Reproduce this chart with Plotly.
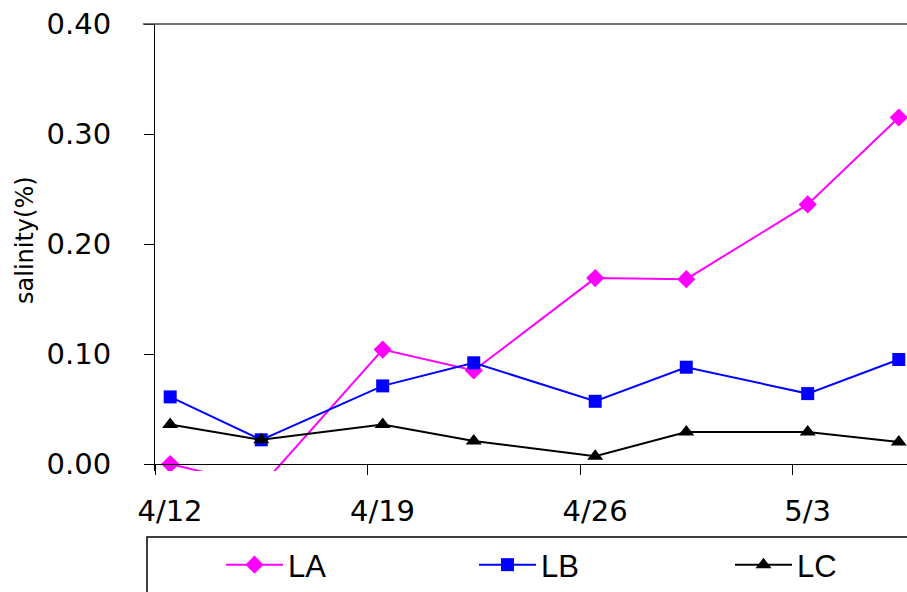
import pandas as pd
import plotly.graph_objects as go

# Sampling dates and salinity (%) at the three sites
dates = ["2008-04-12", "2008-04-15", "2008-04-19", "2008-04-22",
         "2008-04-26", "2008-04-29", "2008-05-03", "2008-05-06"]
la = [0.000, -0.020, 0.104, 0.085, 0.169, 0.168, 0.236, 0.315]
lb = [0.061, 0.022, 0.071, 0.092, 0.057, 0.088, 0.064, 0.095]
lc = [0.036, 0.022, 0.036, 0.021, 0.007, 0.029, 0.029, 0.020]
y_ticks = [0.0, 0.1, 0.2, 0.3, 0.4]

# each reading is plotted at the middle of its day
x = pd.to_datetime(dates) + pd.Timedelta(hours=12)

W, H = 907, 592
L, T, R = 155, 24, 0
PLOT_BOTTOM = 471          # plot area runs a little below the zero line
B = H - PLOT_BOTTOM
ph = PLOT_BOTTOM - T
Y0_PIX = 464               # pixel row of salinity 0


def paper_y(pix):
    return (PLOT_BOTTOM - pix) / ph


def paper_x(pix):
    return (pix - L) / (W - L - R)


# name, values, colour, marker, marker size, legend id, legend left edge (px)
series = [
    ("LA", la, "#FF00FF", "diamond", 14, "legend", 221),
    ("LB", lb, "#0000FF", "square", 13, "legend2", 474),
    ("LC", lc, "#000000", "triangle-up", 14, "legend3", 730),
]

fig = go.Figure()
legend_style = dict(
    orientation="h", xanchor="left", yanchor="middle",
    y=paper_y(565),
    font=dict(family="Liberation Sans", size=31, color="#000000"),
    bgcolor="rgba(0,0,0,0)", borderwidth=0, itemwidth=57,
)
legends = {}
for name, vals, col, sym, size, leg, left in series:
    fig.add_trace(go.Scatter(
        x=x, y=vals, name=name, mode="lines+markers",
        line=dict(color=col, width=2),
        marker=dict(symbol=sym, size=size, color=col),
        cliponaxis=True, legend=leg,
    ))
    legends[leg] = dict(legend_style, x=paper_x(left))

tick_font = dict(family="DejaVu Sans", size=29, color="#000000")

fig.update_layout(
    width=W, height=H,
    margin=dict(l=L, r=R, t=T, b=B, pad=0, autoexpand=False),
    paper_bgcolor="white", plot_bgcolor="white",
    showlegend=True,
    **legends,
    xaxis=dict(
        type="date",
        range=["2008-04-12", "2008-05-06 18:30"],
        tick0="2008-04-12", dtick=7 * 24 * 3600 * 1000,
        tickformat="%-m/%-d",
        ticks="outside", ticklen=10, tickwidth=1, tickcolor="black",
        ticklabelshift=15, ticklabelstandoff=11,
        tickfont=tick_font,
        showline=True, linecolor="black", linewidth=1,
        showgrid=False, zeroline=False,
        anchor="free", position=paper_y(Y0_PIX),
    ),
    yaxis=dict(
        range=[0.4 * (Y0_PIX - PLOT_BOTTOM) / (Y0_PIX - T), 0.4],
        tickvals=y_ticks, tickformat=".2f",
        ticks="outside", ticklen=10, tickwidth=1, tickcolor="black",
        ticklabelstandoff=27,
        tickfont=tick_font,
        showline=True, linecolor="black", linewidth=1,
        showgrid=False, zeroline=False,
    ),
    shapes=[
        # top border across the plot
        dict(type="line", xref="paper", yref="paper",
             x0=paper_x(143), x1=1.0, y0=1, y1=1,
             line=dict(color="#444444", width=1.5)),
        # legend frame
        dict(type="rect", xref="paper", yref="paper",
             x0=paper_x(147), x1=paper_x(W + 20),
             y0=paper_y(H + 20), y1=paper_y(537),
             line=dict(color="black", width=1.5), fillcolor="rgba(0,0,0,0)"),
    ],
    annotations=[
        dict(text="salinity(%)", xref="paper", yref="paper",
             x=paper_x(25), y=paper_y(240), xanchor="center", yanchor="middle",
             textangle=-90, showarrow=False,
             font=dict(family="DejaVu Sans", size=24, color="#000000")),
    ],
)

fig.write_html("out.html")
